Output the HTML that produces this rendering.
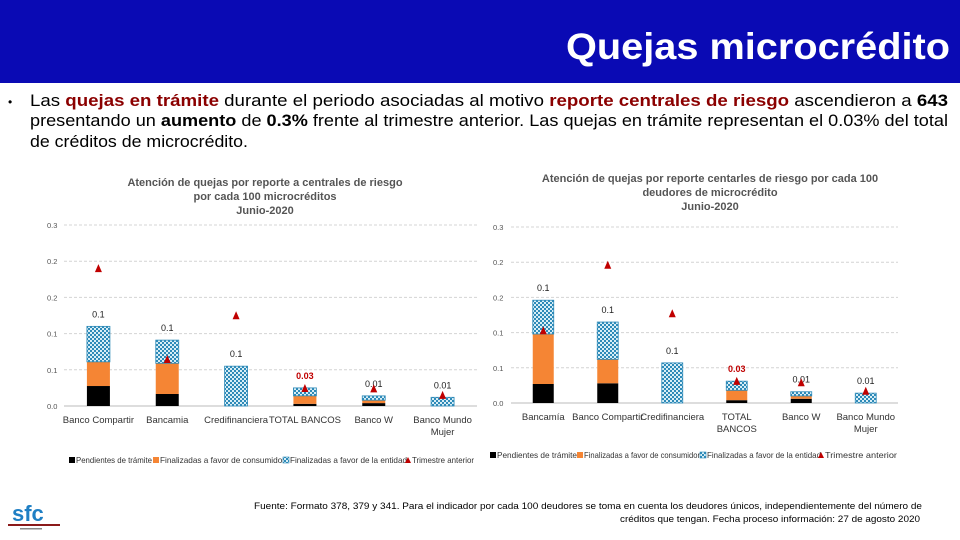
<!DOCTYPE html>
<html><head><meta charset="utf-8"><style>
body{margin:0;width:960px;height:540px;overflow:hidden;background:#fff;font-family:"Liberation Sans",sans-serif}
svg{display:block}
</style></head><body>
<svg id="s" width="960" height="540" viewBox="0 0 960 540" xmlns="http://www.w3.org/2000/svg">
<defs>
<pattern id="hatch" width="4" height="4" patternUnits="userSpaceOnUse">
<rect width="4" height="4" fill="#d8eef6"/>
<rect x="0" y="0" width="2" height="2" fill="#2e8ab8"/>
<rect x="2" y="2" width="2" height="2" fill="#2e8ab8"/>
</pattern>
</defs>
<rect x="0" y="0" width="960" height="83" fill="#0a0ab4"/>
<text x="950" y="59" text-anchor="end" font-size="37" font-weight="bold" fill="#fff" textLength="384" lengthAdjust="spacingAndGlyphs">Quejas microcrédito</text>
<g font-size="16.5" fill="#000">
<text x="8" y="106" font-size="12">•</text>
<text x="30" y="106" textLength="918" lengthAdjust="spacingAndGlyphs">Las <tspan fill="#8b0000" font-weight="bold">quejas en trámite</tspan> durante el periodo asociadas al motivo <tspan fill="#8b0000" font-weight="bold">reporte centrales de riesgo</tspan> ascendieron a <tspan font-weight="bold">643</tspan></text>
<text x="30" y="126" textLength="918" lengthAdjust="spacingAndGlyphs">presentando un <tspan font-weight="bold">aumento</tspan> de <tspan font-weight="bold">0.3%</tspan> frente al trimestre anterior. Las quejas en trámite representan el 0.03% del total</text>
<text x="30" y="147" textLength="218" lengthAdjust="spacingAndGlyphs">de créditos de microcrédito.</text>
</g>
<g id="c1"></g>
<g id="c2"></g>
<g>
<text x="12" y="521" font-size="22" font-weight="bold" fill="#1f7fc4">sfc</text>
<rect x="8" y="524" width="52" height="2" fill="#8b1a1a"/>
<rect x="20" y="528" width="22" height="1.5" fill="#888"/>
</g>
<g font-size="9.5" fill="#000" text-anchor="end">
<text x="922" y="509" textLength="668" lengthAdjust="spacingAndGlyphs">Fuente: Formato 378, 379 y 341. Para el indicador por cada 100 deudores se toma en cuenta los deudores únicos, independientemente del número de</text>
<text x="920" y="522" textLength="300" lengthAdjust="spacingAndGlyphs">créditos que tengan. Fecha proceso información: 27 de agosto 2020</text>
</g>
</svg>
<script>
// Left chart data (per 100 microcréditos)
const cats1 = [["Banco Compartir"],["Bancamia"],["Credifinanciera"],["TOTAL BANCOS"],["Banco W"],["Banco Mundo","Mujer"]];
const pend1 = [0.0276,0.0166,0,0.003,0.004,0];
const fav1 = [0.0334,0.0424,0,0.011,0.004,0];
const ent1 = [0.049,0.032,0.055,0.011,0.006,0.012];
const prev1 = [0.189,0.0635,0.124,0.0235,0.023,0.014];
const lbl1 = ["0.1","0.1","0.1","0.03","0.01","0.01"];
// Right chart data (per 100 deudores)
const cats2 = [["Bancamía"],["Banco Compartir"],["Credifinanciera"],["TOTAL","BANCOS"],["Banco W"],["Banco Mundo","Mujer"]];
const pend2 = [0.027,0.028,0,0.004,0.006,0];
const fav2 = [0.071,0.034,0,0.014,0.004,0];
const ent2 = [0.048,0.053,0.057,0.013,0.006,0.014];
const prev2 = [0.102,0.195,0.126,0.03,0.028,0.016];
const lbl2 = ["0.1","0.1","0.1","0.03","0.01","0.01"];
const ticks = ["0.0","0.1","0.1","0.2","0.2","0.3"];
const tickVals = [0,0.05,0.1,0.15,0.2,0.25];
const legendLabels = ["Pendientes de trámite","Finalizadas a favor de consumidor","Finalizadas a favor de la entidad","Trimestre anterior"];

const NS="http://www.w3.org/2000/svg";
function mk(p,tag,a){const e=document.createElementNS(NS,tag);for(const k in a)e.setAttribute(k,a[k]);p.appendChild(e);return e;}

function draw(g,o){
  const y=v=>o.y0-(v/0.25)*(o.y0-o.yTop);
  const step=(o.x1-o.x0)/o.cats.length;
  const xc=i=>o.x0+step*(i+0.5);
  o.title.forEach((t,i)=>{const e=mk(g,"text",{x:o.tx,y:o.ty+i*14,"text-anchor":"middle","font-size":"11","font-weight":"bold",fill:"#555"});e.textContent=t;
    
    });
  tickVals.forEach((v,i)=>{
    const l=mk(g,"line",{x1:o.x0,x2:o.x1,y1:y(v),y2:y(v),stroke:i==0?"#bbb":"#d4d4d4","stroke-dasharray":i==0?"":"3,2"});
    
    
    const t=mk(g,"text",{x:o.lx,y:y(v)+3,"font-size":"7.5",fill:"#555"});t.textContent=ticks[i];
    
    
  });
  o.cats.forEach((c,i)=>{
    const cx=xc(i),w=o.bw;
    let base=0;
    [[o.pend[i],"#000"],[o.fav[i],"#f58534"],[o.ent[i],"url(#hatch)"]].forEach((s,k)=>{
      if(s[0]<=0)return;
      const r=mk(g,"rect",{x:cx-w/2,y:y(base+s[0]),width:w,height:y(base)-y(base+s[0]),fill:s[1]});
      if(k==2){r.setAttribute("stroke","#2e8ab8");r.setAttribute("stroke-width","0.8");}
      
      
      base+=s[0];
    });
    const lt=mk(g,"text",{x:cx,y:y(base)-9,"text-anchor":"middle","font-size":"9",fill:i==3?"#c00000":"#222","font-weight":i==3?"bold":"normal"});
    lt.textContent=o.lbl[i];
    
    
    const py=y(o.prev[i]);
    const tri=mk(g,"polygon",{points:`${cx},${py-5} ${cx-3.5},${py+3} ${cx+3.5},${py+3}`,fill:"#c00000"});
    
    
    c.forEach((ln,j)=>{const t=mk(g,"text",{x:cx,y:o.y0+17+j*12,"text-anchor":"middle","font-size":"9.5",fill:"#333"});t.textContent=ln;
      
      });
  });
  // legend
  const sw=[["rect","#000"],["rect","#f58534"],["rect","url(#hatch)"],["tri","#c00000"]];
  legendLabels.forEach((t,i)=>{
    const lx=o.legX[i], tl=o.legT[i];
    if(sw[i][0]=="rect") mk(g,"rect",{x:lx,y:o.legY-6,width:6,height:6,fill:sw[i][1],stroke:i==2?"#2e8ab8":"none","stroke-width":"0.6"});
    else mk(g,"polygon",{points:`${lx+3},${o.legY-6} ${lx},${o.legY} ${lx+6},${o.legY}`,fill:sw[i][1]});
    const e=mk(g,"text",{x:lx+7,y:o.legY,"font-size":"8.2",fill:"#333",textLength:tl,lengthAdjust:"spacingAndGlyphs"});e.textContent=t;
    
    
  });
}
draw(document.getElementById("c1"),{cats:cats1,pend:pend1,fav:fav1,ent:ent1,prev:prev1,lbl:lbl1,
  x0:64,x1:477,yTop:225,y0:406,lx:47,bw:23,
  title:["Atención de quejas por reporte a centrales de riesgo","por cada 100 microcréditos","Junio-2020"],tx:265,ty:186,
  legX:[69,153,283,405],legT:[76,125,117,62],legY:463});
draw(document.getElementById("c2"),{cats:cats2,pend:pend2,fav:fav2,ent:ent2,prev:prev2,lbl:lbl2,
  x0:511,x1:898,yTop:227,y0:403,lx:493,bw:21,
  title:["Atención de quejas por reporte centarles de riesgo  por cada 100","deudores de microcrédito","Junio-2020"],tx:710,ty:182,
  legX:[490,577,700,818],legT:[80,116,114,72],legY:458});
</script>
</body></html>
